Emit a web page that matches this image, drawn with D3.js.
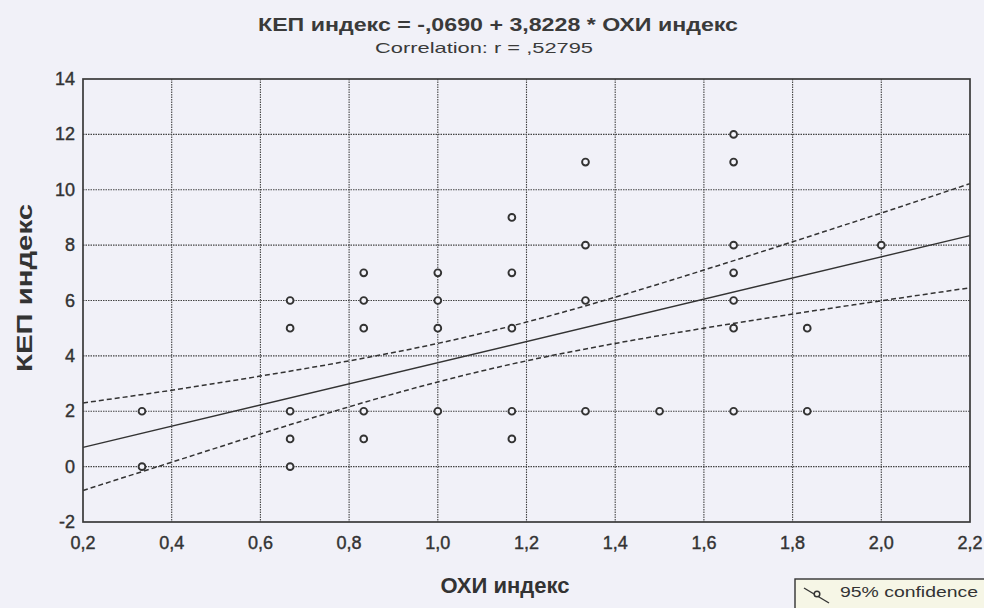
<!DOCTYPE html>
<html>
<head>
<meta charset="utf-8">
<script src="https://cdn.jsdelivr.net/npm/d3@7"></script>
<style>
  body { margin: 0; background: #f1f1f8; }
  svg { display: block; font-family: "Liberation Sans", Arial, sans-serif; }
  .grid line { stroke: #444; stroke-width: 1.1; stroke-dasharray: 1.5 1; }
  .tick-label { fill: #333; font-size: 18px; stroke: #333; stroke-width: 0.4; }
</style>
</head>
<body>
<svg id="chart"></svg>
<script>
// ОХИ индекс (x) and КЕП индекс (y) of every observation
const oxi = [0.333, 0.333,
    0.667, 0.667, 0.667, 0.667, 0.667,
    0.833, 0.833, 0.833, 0.833, 0.833,
    1.0, 1.0, 1.0, 1.0,
    1.167, 1.167, 1.167, 1.167, 1.167,
    1.333, 1.333, 1.333, 1.333,
    1.5,
    1.667, 1.667, 1.667, 1.667, 1.667, 1.667, 1.667,
    1.833, 1.833,
    2.0];
const kep = [2, 0,
    6, 5, 2, 1, 0,
    7, 6, 5, 2, 1,
    7, 6, 5, 2,
    9, 7, 5, 2, 1,
    11, 8, 6, 2,
    2,
    12, 11, 8, 7, 6, 5, 2,
    5, 2,
    8];

// regression from the title
const intercept = -0.0690;
const slope = 3.8228;

// 95% confidence band
const bandX = [0.2, 0.4, 0.6, 0.8, 1.0, 1.2, 1.4, 1.6, 1.8, 2.0, 2.2];
const bandUpper = [2.30, 2.76, 3.27, 3.82, 4.45, 5.22, 6.12, 7.10, 8.12, 9.16, 10.22];
const bandLower = [-0.86, 0.16, 1.18, 2.16, 3.06, 3.82, 4.45, 5.00, 5.51, 5.99, 6.46];

const xTicks = [0.2, 0.4, 0.6, 0.8, 1.0, 1.2, 1.4, 1.6, 1.8, 2.0, 2.2];
const yTicks = [-2, 0, 2, 4, 6, 8, 10, 12, 14];

function draw() {
    const width = 984, height = 608;
    const svg = d3.select('#chart').attr('width', width).attr('height', height);

    const left = 83, right = 970, top = 79, bottom = 522;
    const xs = d3.scaleLinear().domain([0.2, 2.2]).range([left, right]);
    const ys = d3.scaleLinear().domain([-2, 14]).range([bottom, top]);
    const comma = d => d3.format('.1f')(d).replace('.', ',');

    // grid
    const grid = svg.append('g').attr('class', 'grid');
    grid.selectAll('.vx').data(xTicks.slice(1, -1)).enter().append('line')
        .attr('x1', d => xs(d)).attr('x2', d => xs(d))
        .attr('y1', top).attr('y2', bottom);
    grid.selectAll('.hy').data(yTicks.slice(1, -1)).enter().append('line')
        .attr('x1', left).attr('x2', right)
        .attr('y1', d => ys(d)).attr('y2', d => ys(d));

    // tick labels
    svg.selectAll('.xl').data(xTicks).enter().append('text')
        .attr('class', 'tick-label')
        .attr('x', d => xs(d)).attr('y', bottom + 27)
        .attr('text-anchor', 'middle')
        .text(comma);
    svg.selectAll('.yl').data(yTicks).enter().append('text')
        .attr('class', 'tick-label')
        .attr('x', left - 8).attr('y', d => ys(d) + 6)
        .attr('text-anchor', 'end')
        .text(d => d);

    // confidence band
    const band = bandX.map((x, i) => ({x: x, lo: bandLower[i], hi: bandUpper[i]}));
    const curve = d3.curveNatural;
    svg.append('path').datum(band)
        .attr('d', d3.line().x(d => xs(d.x)).y(d => ys(d.hi)).curve(curve))
        .attr('fill', 'none').attr('stroke', '#333').attr('stroke-width', 1.5)
        .attr('stroke-dasharray', '5 3');
    svg.append('path').datum(band)
        .attr('d', d3.line().x(d => xs(d.x)).y(d => ys(d.lo)).curve(curve))
        .attr('fill', 'none').attr('stroke', '#333').attr('stroke-width', 1.5)
        .attr('stroke-dasharray', '5 3');

    // regression line
    const dom = xs.domain();
    svg.append('line')
        .attr('x1', xs(dom[0])).attr('y1', ys(intercept + slope * dom[0]))
        .attr('x2', xs(dom[1])).attr('y2', ys(intercept + slope * dom[1]))
        .attr('stroke', '#333').attr('stroke-width', 1.4);

    // points
    svg.selectAll('.pt').data(oxi.map((x, i) => ({x: x, y: kep[i]}))).enter()
        .append('circle')
        .attr('cx', d => xs(d.x)).attr('cy', d => ys(d.y))
        .attr('r', 3.4)
        .attr('fill', '#f4f4fa').attr('stroke', '#333').attr('stroke-width', 1.9);

    // frame
    svg.append('rect')
        .attr('x', left).attr('y', top)
        .attr('width', right - left).attr('height', bottom - top)
        .attr('fill', 'none').attr('stroke', '#3a3a3a').attr('stroke-width', 1.7);

    // titles
    svg.append('text')
        .attr('x', 498).attr('y', 31)
        .attr('text-anchor', 'middle')
        .attr('textLength', 480).attr('lengthAdjust', 'spacingAndGlyphs')
        .style('font-size', '19px').style('font-weight', 'bold').attr('fill', '#3a3a3a')
        .text('КЕП индекс = -,0690 + 3,8228 * ОХИ индекс');
    svg.append('text')
        .attr('x', 484).attr('y', 53)
        .attr('text-anchor', 'middle')
        .attr('textLength', 218).attr('lengthAdjust', 'spacingAndGlyphs')
        .style('font-size', '15px').attr('fill', '#3a3a3a')
        .text('Correlation: r = ,52795');

    svg.append('text')
        .attr('x', 505).attr('y', 593)
        .attr('text-anchor', 'middle')
        .style('font-size', '22px').style('font-weight', 'bold').attr('fill', '#333')
        .text('ОХИ индекс');
    svg.append('text')
        .attr('transform', 'translate(32,288) rotate(-90)')
        .attr('text-anchor', 'middle')
        .attr('textLength', 168).attr('lengthAdjust', 'spacingAndGlyphs')
        .style('font-size', '22px').style('font-weight', 'bold').attr('fill', '#333')
        .text('КЕП индекс');

    // legend
    const lg = svg.append('g').attr('transform', 'translate(795,579)');
    lg.append('rect').attr('width', 200).attr('height', 40)
        .attr('fill', '#f6f6e6').attr('stroke', '#333').attr('stroke-width', 1.4);
    lg.append('line').attr('x1', 9).attr('y1', 9).attr('x2', 34).attr('y2', 24)
        .attr('stroke', '#333').attr('stroke-width', 1.4);
    lg.append('circle').attr('cx', 22).attr('cy', 15).attr('r', 2.8)
        .attr('fill', '#f6f6e6').attr('stroke', '#333').attr('stroke-width', 1.5);
    lg.append('text').attr('x', 45).attr('y', 18)
        .attr('textLength', 138).attr('lengthAdjust', 'spacingAndGlyphs')
        .style('font-size', '15px').attr('fill', '#333')
        .text('95% confidence');
}

window.onload = draw;
</script>
</body>
</html>
